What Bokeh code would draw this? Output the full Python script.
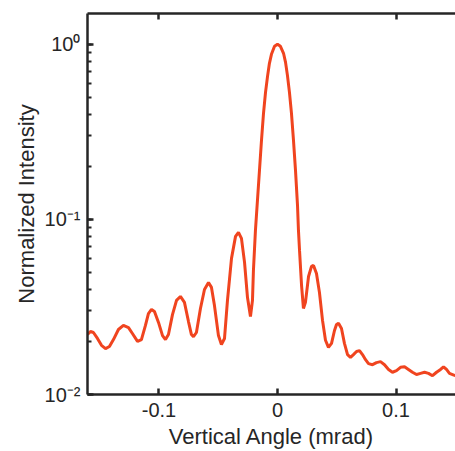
from bokeh.plotting import figure
from bokeh.models import Range1d, FixedTicker, LogTicker, LinearAxis, CustomJSTickFormatter
from bokeh.embed import file_html
from bokeh.resources import INLINE

# Vertical angle (mrad)
angle = [-0.1603, -0.1578, -0.1553, -0.1519, -0.1485, -0.1451, -0.1418, -0.1384, -0.1342, -0.1300,
         -0.1257, -0.1224, -0.1181, -0.1148, -0.1114, -0.1089, -0.1063, -0.1038, -0.1004, -0.0970,
         -0.0945, -0.0920, -0.0886, -0.0852, -0.0819, -0.0785, -0.0751, -0.0726, -0.0709, -0.0684,
         -0.0650, -0.0616, -0.0582, -0.0557, -0.0532, -0.0498, -0.0473, -0.0447, -0.0422, -0.0388,
         -0.0354, -0.0329, -0.0304, -0.0278, -0.0253, -0.0228, -0.0211, -0.0203, -0.0186, -0.0169,
         -0.0152, -0.0135, -0.0118, -0.0101, -0.0084, -0.0068, -0.0051, -0.0025, 0.0000, 0.0025,
         0.0051, 0.0068, 0.0084, 0.0101, 0.0118, 0.0135, 0.0152, 0.0169, 0.0177, 0.0186,
         0.0203, 0.0219, 0.0236, 0.0262, 0.0287, 0.0304, 0.0329, 0.0354, 0.0380, 0.0405,
         0.0430, 0.0456, 0.0481, 0.0498, 0.0515, 0.0540, 0.0565, 0.0591, 0.0616, 0.0641,
         0.0667, 0.0692, 0.0717, 0.0743, 0.0768, 0.0802, 0.0835, 0.0869, 0.0903, 0.0937,
         0.0970, 0.1004, 0.1038, 0.1072, 0.1105, 0.1139, 0.1173, 0.1207, 0.1241, 0.1274,
         0.1308, 0.1342, 0.1376, 0.1401, 0.1426, 0.1451, 0.1477, 0.1502]

# Normalized intensity
intensity = [0.0220, 0.0229, 0.0226, 0.0209, 0.0191, 0.0183, 0.0188, 0.0206, 0.0235, 0.0248,
             0.0241, 0.0223, 0.0201, 0.0206, 0.0248, 0.0290, 0.0306, 0.0298, 0.0258, 0.0217,
             0.0206, 0.0220, 0.0286, 0.0345, 0.0363, 0.0336, 0.0261, 0.0220, 0.0214, 0.0226,
             0.0310, 0.0398, 0.0436, 0.0409, 0.0323, 0.0217, 0.0193, 0.0209, 0.0345, 0.0599,
             0.0800, 0.0843, 0.0779, 0.0568, 0.0358, 0.0279, 0.0345, 0.0511, 0.0865, 0.1284,
             0.1905, 0.2827, 0.4035, 0.5320, 0.6560, 0.7790, 0.8770, 0.9740, 1.0000, 0.9740,
             0.8890, 0.7890, 0.6650, 0.5320, 0.4035, 0.2827, 0.1905, 0.1200, 0.0865, 0.0665,
             0.0420, 0.0310, 0.0336, 0.0472, 0.0539, 0.0546, 0.0491, 0.0383, 0.0265, 0.0204,
             0.0186, 0.0196, 0.0232, 0.0251, 0.0255, 0.0238, 0.0196, 0.0169, 0.0163, 0.0169,
             0.0176, 0.0178, 0.0169, 0.0158, 0.0150, 0.0148, 0.0152, 0.0154, 0.0148, 0.0139,
             0.0134, 0.0137, 0.0143, 0.0144, 0.0139, 0.0134, 0.0130, 0.0132, 0.0134, 0.0132,
             0.0128, 0.0134, 0.0139, 0.0144, 0.0139, 0.0132, 0.0130, 0.0128]

x_ticks = [-0.1, 0.0, 0.1]
x_tick_labels = {-0.1: "-0.1", 0.0: "0", 0.1: "0.1"}
x_lim = (-0.1603, 0.1502)
y_lim = (0.01, 1.5)

FONT = "Liberation Sans"
AX = "#262626"

p = figure(width=455, height=451, y_axis_type="log",
           x_range=Range1d(*x_lim), y_range=Range1d(*y_lim),
           output_backend="svg", toolbar_location=None,
           min_border_left=87, min_border_right=0, min_border_top=13, min_border_bottom=10)
p.outline_line_color = None
p.xgrid.visible = False
p.ygrid.visible = False

p.line(angle, intensity, line_color="#F0441F", line_width=3)

xa = p.xaxis[0]
xa.ticker = FixedTicker(ticks=x_ticks)
xa.major_label_overrides = x_tick_labels
xa.axis_label = "Vertical Angle (mrad)"

ya = p.yaxis[0]
ya.ticker = LogTicker(num_minor_ticks=10)
ya.formatter = CustomJSTickFormatter(code="""
const e = Math.round(Math.log10(tick));
const sup = {"-": "\u207b", "0": "\u2070", "1": "\u00b9", "2": "\u00b2", "3": "\u00b3",
             "4": "\u2074", "5": "\u2075", "6": "\u2076", "7": "\u2077", "8": "\u2078", "9": "\u2079"};
return "10" + String(e).split("").map(c => sup[c]).join("");
""")
ya.axis_label = "Normalized Intensity"

top = LinearAxis(ticker=FixedTicker(ticks=x_ticks),
                 formatter=CustomJSTickFormatter(code="return '';"))
top.major_label_standoff = 0
p.add_layout(top, "above")

for ax in (xa, ya, top):
    ax.level = "overlay"
    ax.axis_line_color = AX
    ax.axis_line_width = 2.5
    ax.major_tick_line_color = AX
    ax.major_tick_line_width = 2.5
    ax.major_tick_in = 6
    ax.major_tick_out = 0
    ax.minor_tick_line_color = AX
    ax.minor_tick_line_width = 2
    ax.minor_tick_in = 4
    ax.minor_tick_out = 0
    ax.major_label_text_font = FONT
    ax.major_label_text_color = AX
    ax.axis_label_text_font = FONT
    ax.axis_label_text_color = AX
    ax.axis_label_text_font_style = "normal"

xa.minor_tick_line_color = None
top.minor_tick_line_color = None
for ax in (xa, ya):
    ax.major_label_text_font_size = "20px"
    ax.axis_label_text_font_size = "22px"
xa.major_label_standoff = 8
xa.axis_label_standoff = 4
ya.major_label_standoff = 7
ya.axis_label_standoff = 3

open("out.html", "w").write(file_html(p, INLINE))
